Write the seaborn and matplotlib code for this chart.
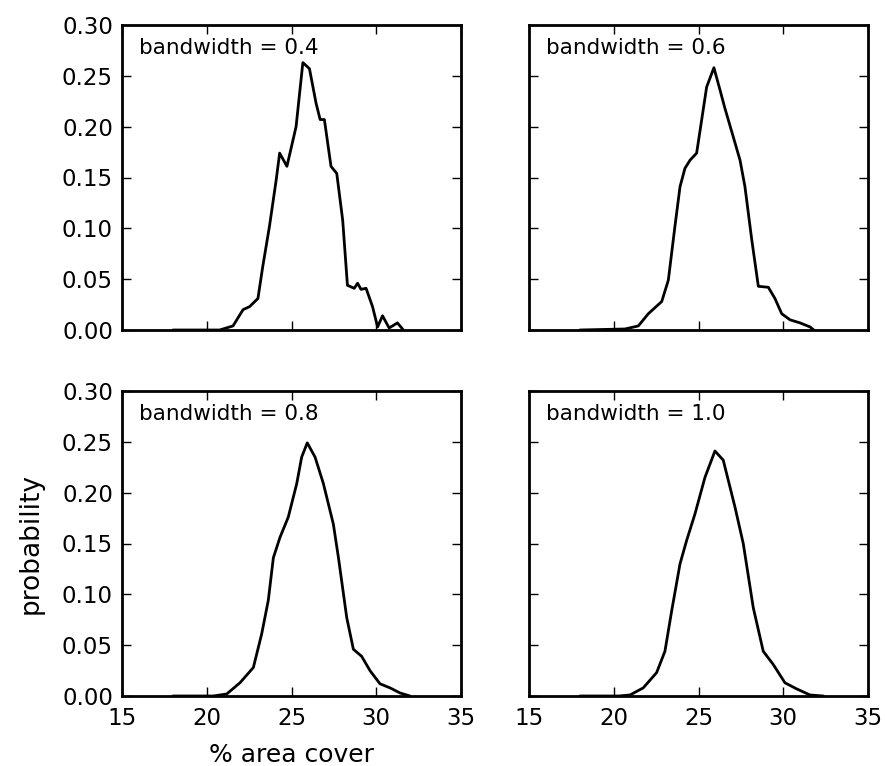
import matplotlib
matplotlib.use("Agg")
import matplotlib.pyplot as plt
import seaborn as sns
import pandas as pd

# ---- data (x = % area cover, y = probability) ----
bw_labels = ["bandwidth = 0.4", "bandwidth = 0.6", "bandwidth = 0.8", "bandwidth = 1.0"]

x_bw04 = [18.0, 20.76, 21.55, 22.14, 22.53, 23.02, 23.30, 23.70, 24.10, 24.30, 24.73, 25.27,
          25.67, 26.06, 26.45, 26.69, 26.94, 27.33, 27.67, 28.02, 28.30, 28.70, 28.90, 29.10,
          29.40, 29.78, 30.08, 30.37, 30.76, 31.25, 31.60]
y_bw04 = [0.0, 0.0, 0.004, 0.020, 0.023, 0.031, 0.062, 0.102, 0.148, 0.174, 0.161, 0.200,
          0.263, 0.257, 0.223, 0.207, 0.207, 0.161, 0.154, 0.108, 0.044, 0.041, 0.046, 0.040,
          0.041, 0.023, 0.003, 0.014, 0.002, 0.007, 0.0]

x_bw06 = [18.0, 20.66, 21.45, 22.04, 22.83, 23.22, 23.61, 23.91, 24.20, 24.50, 24.89, 25.19,
          25.48, 25.91, 26.27, 26.56, 27.05, 27.45, 27.74, 28.14, 28.53, 29.12, 29.51, 29.91,
          30.40, 30.99, 31.58, 31.80]
y_bw06 = [0.0, 0.001, 0.004, 0.016, 0.028, 0.049, 0.102, 0.141, 0.159, 0.167, 0.174, 0.207,
          0.239, 0.258, 0.236, 0.218, 0.190, 0.167, 0.141, 0.089, 0.043, 0.042, 0.031, 0.016,
          0.010, 0.007, 0.003, 0.0]

x_bw08 = [18.0, 20.39, 21.18, 21.96, 22.75, 23.24, 23.63, 23.93, 24.32, 24.81, 25.31, 25.60,
          25.93, 26.39, 26.88, 27.47, 27.77, 28.26, 28.65, 29.14, 29.63, 30.22, 30.81, 31.40,
          31.99]
y_bw08 = [0.0, 0.0, 0.002, 0.013, 0.028, 0.061, 0.094, 0.136, 0.156, 0.176, 0.209, 0.235,
          0.249, 0.235, 0.209, 0.169, 0.136, 0.077, 0.046, 0.039, 0.025, 0.012, 0.008, 0.003,
          0.0]

x_bw10 = [18.0, 20.30, 20.96, 21.74, 22.53, 23.02, 23.42, 23.91, 24.30, 24.79, 25.38, 25.97,
          26.46, 27.15, 27.64, 28.23, 28.82, 29.41, 30.10, 30.79, 31.58, 32.36]
y_bw10 = [0.0, 0.0, 0.001, 0.008, 0.023, 0.044, 0.084, 0.130, 0.153, 0.179, 0.215, 0.241,
          0.232, 0.186, 0.150, 0.087, 0.044, 0.031, 0.013, 0.007, 0.001, 0.0]

x_ticks = [15, 20, 25, 30, 35]
y_ticks = [0.00, 0.05, 0.10, 0.15, 0.20, 0.25, 0.30]

curves = [(x_bw04, y_bw04), (x_bw06, y_bw06), (x_bw08, y_bw08), (x_bw10, y_bw10)]

sns.set_style("white")
plt.rcParams.update({
    "font.family": ["DejaVu Sans"],
    "text.color": "black", "axes.labelcolor": "black",
    "xtick.direction": "in", "ytick.direction": "in",
    "xtick.top": True, "ytick.right": True,
    "xtick.bottom": True, "ytick.left": True,
    "xtick.major.size": 6.5, "ytick.major.size": 6.5,
    "xtick.major.width": 1.0, "ytick.major.width": 1.0,
    "xtick.color": "black", "ytick.color": "black",
    "xtick.labelcolor": "black", "ytick.labelcolor": "black",
    "axes.edgecolor": "black", "axes.linewidth": 2.0,
    "xtick.labelsize": 16.5, "ytick.labelsize": 16.5,
})

fig = plt.figure(figsize=(8.85, 7.66), dpi=100)
W, H = 885, 766
lefts = [122, 529]
tops = [25, 391]
w_px, h_px = 339, 305
axes = []
for r in range(2):
    for c in range(2):
        ax = fig.add_axes([lefts[c] / W, 1 - (tops[r] + h_px) / H, w_px / W, h_px / H])
        axes.append(ax)

for i, ax in enumerate(axes):
    xs, ys = curves[i]
    df = pd.DataFrame({"x": xs, "y": ys})
    sns.lineplot(data=df, x="x", y="y", ax=ax, color="black", linewidth=2.0)
    ax.set_xlim(15, 35)
    ax.set_ylim(0, 0.30)
    ax.set_xticks(x_ticks)
    ax.set_yticks(y_ticks)
    ax.set_xlabel("")
    ax.set_ylabel("")
    ax.text(0.05, 0.925, bw_labels[i], transform=ax.transAxes, fontsize=15.5,
            ha="left", va="center", color="black")
    r, c = divmod(i, 2)
    if c == 0:
        ax.set_yticklabels([f"{v:.2f}" for v in y_ticks])
    else:
        ax.set_yticklabels([])
    if r == 1:
        ax.set_xticklabels([str(v) for v in x_ticks])
    else:
        ax.set_xticklabels([])
    ax.tick_params(axis="x", pad=8.0)
    ax.tick_params(axis="y", pad=6.5)

axes[2].set_ylabel("probability", fontsize=19, labelpad=13, color="black")
axes[2].set_xlabel("% area cover", fontsize=18, labelpad=9, color="black")

fig.savefig("out.png", dpi=100)
